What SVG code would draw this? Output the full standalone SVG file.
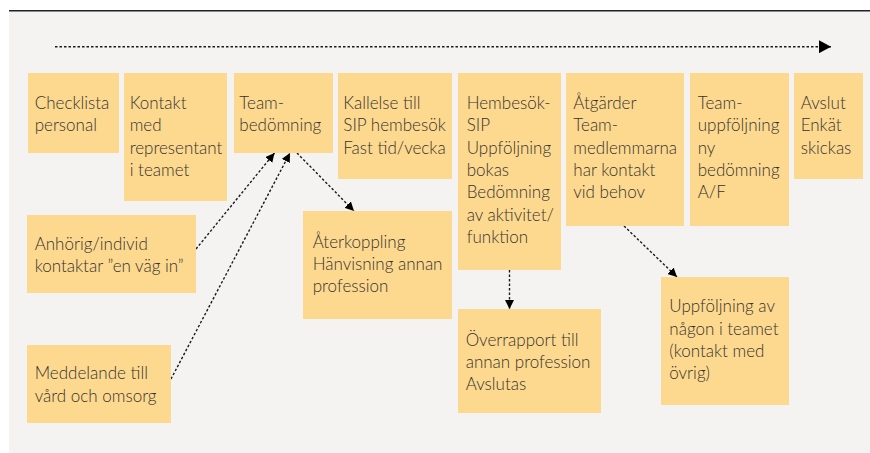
<svg xmlns="http://www.w3.org/2000/svg" width="870" height="453" viewBox="0 0 870 453">
<style>
.bg{fill:#f4f3f2}
.box{fill:#fdd98f}
text{font-family:Lato,"Open Sans","Liberation Sans",sans-serif;font-size:17px;font-weight:300;fill:#36332f}
.c{fill:none;stroke:#1a1a1a;stroke-width:1.4;stroke-dasharray:2.5 2}
</style>
<defs>
<marker id="ah" viewBox="0 0 10 10" refX="10" refY="5" markerWidth="9" markerHeight="9" markerUnits="userSpaceOnUse" orient="auto">
<path d="M0,0 L10,5 L0,10 z" fill="#000"/>
</marker>
<marker id="ahBig" viewBox="0 0 10 10" refX="10" refY="5" markerWidth="12" markerHeight="13" markerUnits="userSpaceOnUse" orient="auto" preserveAspectRatio="none">
<path d="M0,0 L10,5 L0,10 z" fill="#000"/>
</marker>
</defs>
<rect class="bg" x="9" y="11" width="861" height="442"/>
<line x1="9" y1="10.7" x2="870" y2="10.7" stroke="#222" stroke-width="1.5"/>
<g id="connectors">
<line class="c" x1="55" y1="46.7" x2="831" y2="46.7" marker-end="url(#ahBig)"/>
<line class="c" x1="196" y1="249" x2="274.5" y2="153" marker-end="url(#ah)"/>
<line class="c" x1="171" y1="379" x2="290" y2="153" marker-end="url(#ah)"/>
<line class="c" x1="297" y1="153" x2="354" y2="211" marker-end="url(#ah)"/>
<line class="c" x1="509.5" y1="270" x2="509.5" y2="309" marker-end="url(#ah)"/>
<line class="c" x1="624" y1="226" x2="677" y2="277" marker-end="url(#ah)"/>
</g>
<g id="n1"><rect class="box" x="28" y="73" width="91" height="80"/><text x="34.7" y="109">Checklista<tspan x="34.7" dy="22.3">personal</tspan></text></g>
<g id="n2"><rect class="box" x="124" y="73" width="103" height="128"/><text x="129.7" y="109">Kontakt<tspan x="129.7" dy="22.3">med</tspan><tspan x="129.7" dy="22.3">representant</tspan><tspan x="129.7" dy="22.3">i teamet</tspan></text></g>
<g id="n3"><rect class="box" x="234" y="73" width="99" height="80"/><text x="239.3" y="109">Team-<tspan x="239.3" dy="22.3">bedömning</tspan></text></g>
<g id="n4"><rect class="box" x="338" y="73" width="114" height="106"/><text x="343.3" y="109">Kallelse till<tspan x="343.3" dy="22.3">SIP hembesök</tspan><tspan x="343.3" dy="22.3">Fast tid/vecka</tspan></text></g>
<g id="n5"><rect class="box" x="458" y="73" width="103" height="197"/><text x="466.7" y="109">Hembesök-<tspan x="466.7" dy="22.3">SIP</tspan><tspan x="466.7" dy="22.3">Uppföljning</tspan><tspan x="466.7" dy="22.3">bokas</tspan><tspan x="466.7" dy="22.3">Bedömning</tspan><tspan x="466.7" dy="22.3">av aktivitet/</tspan><tspan x="466.7" dy="22.3">funktion</tspan></text></g>
<g id="n6"><rect class="box" x="566" y="73" width="118" height="153"/><text x="573.3" y="109">Åtgärder<tspan x="573.3" dy="22.3">Team-</tspan><tspan x="573.3" dy="22.3">medlemmarna</tspan><tspan x="573.3" dy="22.3">har kontakt</tspan><tspan x="573.3" dy="22.3">vid behov</tspan></text></g>
<g id="n7"><rect class="box" x="690" y="73" width="99" height="153"/><text x="697.7" y="109">Team-<tspan x="697.7" dy="22.3">uppföljning</tspan><tspan x="697.7" dy="22.3">ny</tspan><tspan x="697.7" dy="22.3">bedömning</tspan><tspan x="697.7" dy="22.3">A/F</tspan></text></g>
<g id="n8"><rect class="box" x="794" y="73" width="69" height="106"/><text x="800.7" y="109">Avslut<tspan x="800.7" dy="22.3">Enkät</tspan><tspan x="800.7" dy="22.3">skickas</tspan></text></g>
<g id="n9"><rect class="box" x="27" y="215" width="169" height="78"/><text x="34.7" y="250">Anhörig/individ<tspan x="34.7" dy="22.3">kontaktar ”en väg in”</tspan></text></g>
<g id="n10"><rect class="box" x="27" y="345" width="144" height="78"/><text x="34.7" y="379.3">Meddelande till<tspan x="34.7" dy="22.3">vård och omsorg</tspan></text></g>
<g id="n11"><rect class="box" x="303" y="211" width="149" height="108"/><text x="312.7" y="247.7">Återkoppling<tspan x="312.7" dy="22.3">Hänvisning annan</tspan><tspan x="312.7" dy="22.3">profession</tspan></text></g>
<g id="n12"><rect class="box" x="458" y="309" width="143" height="104"/><text x="465.7" y="345.7">Överrapport till<tspan x="465.7" dy="22.3">annan profession</tspan><tspan x="465.7" dy="22.3">Avslutas</tspan></text></g>
<g id="n13"><rect class="box" x="661" y="277" width="128" height="128"/><text x="669.3" y="312.3">Uppföljning av<tspan x="669.3" dy="22.3">någon i teamet</tspan><tspan x="669.3" dy="22.3">(kontakt med</tspan><tspan x="669.3" dy="22.3">övrig)</tspan></text></g>
</svg>
